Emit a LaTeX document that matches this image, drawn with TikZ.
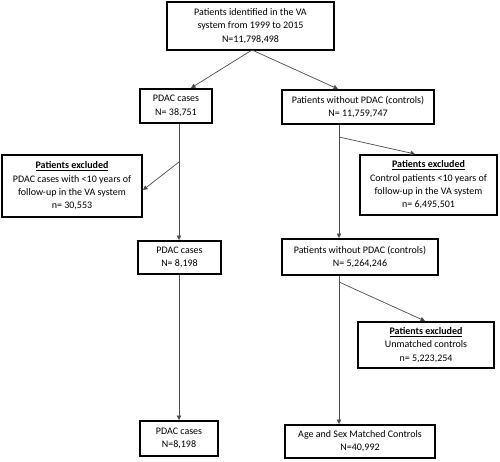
\documentclass[tikz,border=0pt]{standalone}
\usepackage{fontspec}
\setmainfont{Carlito}
\usepackage{tikz}
\usetikzlibrary{arrows.meta}

\begin{document}
\begin{tikzpicture}[x=1pt,y=-1pt,
  box/.style={rectangle,draw=black,line width=2pt,align=center,inner sep=0pt,font=\fontsize{10}{13.3}\selectfont},
  link/.style={draw=black!70,line width=0.7pt,-{Triangle[length=4.5pt,width=4.5pt]}}]
\useasboundingbox (0,0) rectangle (500,461);
%Node Coordinates
\node at (250.5,26) [box,minimum width=167pt,minimum height=48pt] (Source) {Patients identified in the VA\\system from 1999 to 2015\\N=11,798,498};
\node at (176,106) [box,minimum width=72pt,minimum height=34pt] (Cases1) {PDAC cases\\N= 38,751};
\node at (358,107) [box,minimum width=152pt,minimum height=34pt] (Ctrl1) {Patients without PDAC (controls)\\N= 11,759,747};
\node at (72,186) [box,minimum width=140pt,minimum height=62pt] (ExclL) {\underline{\textbf{Patients excluded}}\\PDAC cases with <10 years of\\follow-up in the VA system\\n= 30,553};
\node at (428.5,185) [box,minimum width=137pt,minimum height=60pt] (ExclR) {\underline{\textbf{Patients excluded}}\\Control patients <10 years of\\follow-up in the VA system\\n= 6,495,501};
\node at (179.5,257.5) [box,minimum width=83pt,minimum height=33pt] (Cases2) {PDAC cases\\N= 8,198};
\node at (360,257) [box,minimum width=156pt,minimum height=36pt] (Ctrl2) {Patients without PDAC (controls)\\N= 5,264,246};
\node at (426,345) [box,minimum width=136pt,minimum height=46pt] (ExclM) {\underline{\textbf{Patients excluded}}\\Unmatched controls\\n= 5,223,254};
\node at (179,438.5) [box,minimum width=78pt,minimum height=35pt] (Cases3) {PDAC cases\\N=8,198};
\node at (360,441.5) [box,minimum width=150pt,minimum height=33pt] (Matched) {Age and Sex Matched Controls\\N=40,992};

%Split Points
\coordinate (ForkTop) at (252,50);
\coordinate (SplitL) at (179,162);
\coordinate (SplitR1) at (339,137);
\coordinate (SplitR2) at (339,282);

%Connections
\draw [link] (ForkTop) -- ([xshift=15pt]Cases1.north);
\draw [link] (ForkTop) -- ([xshift=-20pt]Ctrl1.north);
\draw [link] (Cases1.south -| SplitL) -- (Cases2.north -| SplitL);
\draw [link] (SplitL) -- ([yshift=-4pt]ExclL.east);
\draw [link] (Cases2.south -| SplitL) -- (Cases3.north -| SplitL);
\draw [link] (Ctrl1.south -| SplitR1) -- (Ctrl2.north -| SplitR1);
\draw [link] (SplitR1) -- ([xshift=-13.5pt]ExclR.north);
\draw [link] (Ctrl2.south -| SplitR2) -- (Matched.north -| SplitR2);
\draw [link] (SplitR2) -- ([xshift=-1pt]ExclM.north);
\end{tikzpicture}
\end{document}
